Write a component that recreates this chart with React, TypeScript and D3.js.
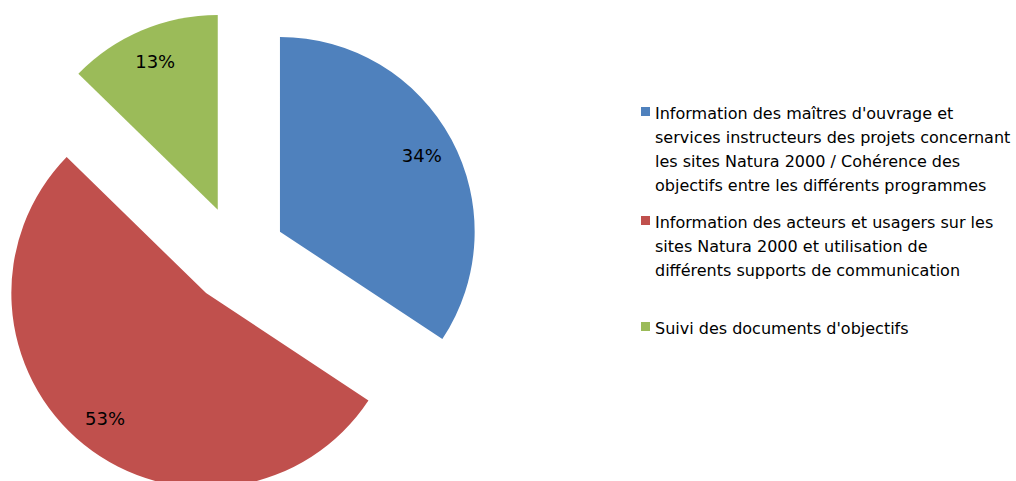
import React from "react";
import * as d3 from "d3";

const categories = [
  "Information des maîtres d'ouvrage et services instructeurs des projets concernant les sites Natura 2000 / Cohérence des objectifs entre les différents programmes",
  "Information des acteurs et usagers sur les sites Natura 2000 et utilisation de différents supports de communication",
  "Suivi des documents d'objectifs",
];
const values = [34.3, 53.0, 12.7];
const valueLabels = ["34%", "53%", "13%"];
const colors = ["#4F81BD", "#C0504D", "#9BBB59"];
const legendLines = [
  [
    "Information des maîtres d'ouvrage et",
    "services instructeurs des projets concernant",
    "les sites Natura 2000 / Cohérence des",
    "objectifs entre les différents programmes",
  ],
  [
    "Information des acteurs et usagers sur les",
    "sites Natura 2000 et utilisation de",
    "différents supports de communication",
  ],
  ["Suivi des documents d'objectifs"],
];

const W = 1016;
const H = 481;
const cx = 236.8;
const cy = 254.9;
const R = 194.7;
const explode = 49;
const labelR = 161;
const font = "'DejaVu Sans', sans-serif";

export default function App() {
  const pie = d3.pie<number>().sort(null).value((d) => d).startAngle(0).endAngle(2 * Math.PI);
  const arcs = pie(values);
  const arc = d3.arc<d3.PieArcDatum<number>>().innerRadius(0).outerRadius(R);
  const legendTops = [113, 222, 328];
  const lineH = 24;
  return (
    <svg width={W} height={H} style={{ position: "absolute", left: 0, top: 0 }}>
      {arcs.map((a, i) => {
        const mid = (a.startAngle + a.endAngle) / 2;
        const dx = Math.sin(mid) * explode;
        const dy = -Math.cos(mid) * explode;
        const lx = Math.sin(mid) * labelR;
        const ly = -Math.cos(mid) * labelR;
        return (
          <g key={i} transform={`translate(${cx + dx},${cy + dy})`}>
            <path d={arc(a) || ""} fill={colors[i]} />
            <text x={lx} y={ly} textAnchor="middle" dominantBaseline="central" fontFamily={font} fontSize={18} fill="#000">
              {valueLabels[i]}
            </text>
          </g>
        );
      })}
      {legendLines.map((lines, i) => (
        <g key={i}>
          <rect x={641} y={legendTops[i] - 6} width={9} height={9} fill={colors[i]} />
          <text fontFamily={font} fontSize={16} fill="#000">
            {lines.map((l, j) => (
              <tspan key={j} x={655} y={legendTops[i] + j * lineH} dominantBaseline="central">
                {l}
              </tspan>
            ))}
          </text>
          <title>{categories[i]}</title>
        </g>
      ))}
    </svg>
  );
}
